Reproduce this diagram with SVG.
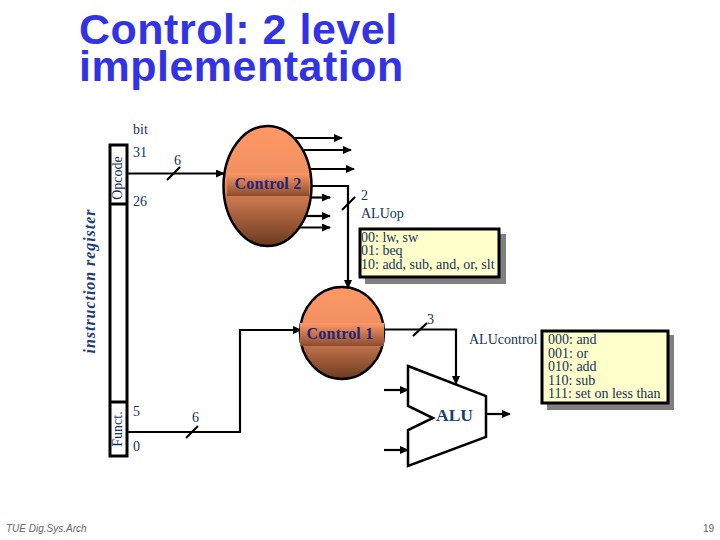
<svg xmlns="http://www.w3.org/2000/svg" width="720" height="540" viewBox="0 0 720 540">
<style>
.t{font-family:"Liberation Serif",serif;font-size:14px;fill:#14325a}
.b{font-family:"Liberation Serif",serif;font-size:14px;fill:#14325a}
.l{fill:none;stroke:#000;stroke-width:2.200}
.title{font-family:"Liberation Sans",sans-serif;font-size:43px;font-weight:bold;fill:#3333e6;letter-spacing:.5px}
.foot{font-family:"Liberation Sans",sans-serif;font-size:10px;font-style:italic;fill:#666}
.box{fill:#ffffcc;stroke:#000;stroke-width:3}
.sh{fill:#808080}
.ctl{font-family:"Liberation Serif",serif;font-size:16px;font-weight:bold;fill:#23237a;letter-spacing:.2px}
</style>
<defs>
<marker id="a" markerWidth="9" markerHeight="8" refX="8" refY="4" orient="auto" markerUnits="userSpaceOnUse"><path d="M0 0L9 4L0 8z" fill="#000"/></marker>
<linearGradient id="eg" x1="0" y1="0" x2="0" y2="1"><stop offset="0" stop-color="#ff9966"/><stop offset=".45" stop-color="#ee8f60"/><stop offset="1" stop-color="#6b3a20"/></linearGradient>
<linearGradient id="bg" x1="0" y1="0" x2="0" y2="1"><stop offset="0" stop-color="#ff9966"/><stop offset="1" stop-color="#8a4c2e"/></linearGradient>
</defs>
<text class="title" x="79" y="44">Control: 2 level</text>
<text class="title" x="79" y="81">implementation</text>

<g id="register">
<rect x="110" y="145" width="17" height="311" fill="#fff" stroke="#000" stroke-width="3"/>
<path d="M110 204H127M110 402H127" fill="none" stroke="#000" stroke-width="3"/>
<text class="t" transform="translate(122,178) rotate(-90)" text-anchor="middle">Opcode</text>
<text class="t" transform="translate(122,429) rotate(-90)" text-anchor="middle">Funct.</text>
<text x="95" y="281" transform="rotate(-90 95 281)" text-anchor="middle" style="font-family:'Liberation Serif',serif;font-size:16px;font-weight:bold;font-style:italic;fill:#1c3c78;letter-spacing:.95px">instruction register</text>
<text class="t" x="133" y="134">bit</text>
<text class="t" x="133" y="157">31</text>
<text class="t" x="133" y="206">26</text>
<text class="t" x="133" y="416">5</text>
<text class="t" x="133" y="451">0</text>
</g>

<g id="connectors">
<path class="l" marker-end="url(#a)" d="M127 173.500H224"/>
<path class="l" d="M167 180L180 167"/>
<path class="l" marker-end="url(#a)" d="M291 138H342"/>
<path class="l" marker-end="url(#a)" d="M304 150H351"/>
<path class="l" marker-end="url(#a)" d="M310 169H354"/>
<path class="l" marker-end="url(#a)" d="M311 197.500H330"/>
<path class="l" marker-end="url(#a)" d="M305 216H330"/>
<path class="l" marker-end="url(#a)" d="M296 227.500H330"/>
<path class="l" marker-end="url(#a)" d="M312 186H348V288"/>
<path class="l" d="M342 210L355 197"/>
<path class="l" marker-end="url(#a)" d="M127 432H240V330H301"/>
<path class="l" d="M186 438L198 426"/>
<path class="l" marker-end="url(#a)" d="M384 329.500H456V384"/>
<path class="l" d="M413 336L427 323"/>
<path class="l" marker-end="url(#a)" d="M384 390H408"/>
<path class="l" marker-end="url(#a)" d="M384 450H408"/>
<path class="l" marker-end="url(#a)" d="M486 414H510"/>
</g>

<g id="control2">
<ellipse cx="267.500" cy="186" rx="44" ry="60" fill="url(#eg)" stroke="#000" stroke-width="2.500"/>
<rect x="227" y="173" width="82" height="23" fill="url(#bg)"/>
<text class="ctl" x="268" y="189" text-anchor="middle">Control 2</text>
</g>
<g id="control1">
<ellipse cx="342" cy="333" rx="42" ry="46" fill="url(#eg)" stroke="#000" stroke-width="2.500"/>
<rect x="300" y="323" width="84" height="23" fill="url(#bg)"/>
<text class="ctl" x="340" y="339" text-anchor="middle">Control 1</text>
</g>

<g id="alu">
<path d="M408 366L486 396V437L408 466V430L433 418L408 406Z" fill="#fff" stroke="#000" stroke-width="2.500"/>
<text x="436" y="421" style="font-family:'Liberation Serif',serif;font-size:17.500px;font-weight:bold;fill:#1c3c78">ALU</text>
</g>

<g id="box-aluop">
<rect class="sh" x="365" y="234" width="141" height="50"/>
<rect class="box" x="360" y="229" width="139" height="48"/>
<text class="b" x="361" y="242">00: lw, sw</text>
<text class="b" x="361" y="255">01: beq</text>
<text class="b" x="361" y="269">10: add, sub, and, or, slt</text>
</g>
<g id="box-alucontrol">
<rect class="sh" x="547" y="335" width="127" height="75"/>
<rect class="box" x="542" y="331" width="126" height="72"/>
<text class="b" x="548" y="344">000: and</text>
<text class="b" x="548" y="358">001: or</text>
<text class="b" x="548" y="371">010: add</text>
<text class="b" x="548" y="385">110: sub</text>
<text class="b" x="548" y="398">111: set on less than</text>
</g>

<text class="t" x="174" y="165">6</text>
<text class="t" x="192" y="422">6</text>
<text class="t" x="361" y="200">2</text>
<text class="t" x="361" y="218">ALUop</text>
<text class="t" x="427" y="324">3</text>
<text class="t" x="469" y="344">ALUcontrol</text>
<text class="foot" x="6" y="532">TUE Dig.Sys.Arch</text>
<text class="foot" x="714" y="532" text-anchor="end" style="font-style:normal">19</text>
</svg>
